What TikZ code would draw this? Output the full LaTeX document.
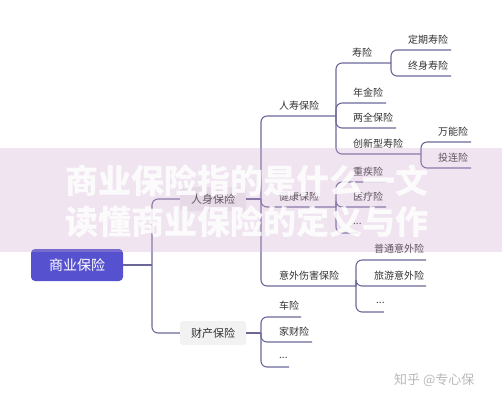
\documentclass[tikz,border=0pt]{standalone}
\usepackage{fontspec}
\setmainfont{Noto Sans CJK SC}
\definecolor{linec}{HTML}{6B6898}
\definecolor{rootc}{HTML}{5652CF}
\definecolor{boxc}{HTML}{F2F2F2}
\definecolor{txt}{HTML}{333333}
\definecolor{band}{RGB}{205,165,205}
\tikzset{
  conn/.style={draw=linec, line width=1.1pt, rounded corners=6pt},
  lbl/.style={anchor=west, inner sep=0pt, font=\fontsize{10}{12}\selectfont, text=txt},
  boxnode/.style={fill=boxc, rounded corners=3pt, minimum width=66pt, minimum height=24pt, font=\fontsize{11}{13}\selectfont, text=txt, inner sep=0pt},
  rootbox/.style={fill=rootc, rounded corners=4pt, minimum width=92pt, minimum height=32pt, font=\fontsize{14}{16}\selectfont, text=white, inner sep=0pt},
  wmtext/.style={anchor=west, inner sep=0pt, font=\fontsize{33}{33}\selectfont\bfseries, text=white, opacity=0.85},
}
\begin{document}
\begin{tikzpicture}[x=1pt,y=-1pt]
\useasboundingbox (0,0) rectangle (502,400);
% main nodes
\node[rootbox] (root) at (77,265) {商业保险};
\coordinate (rootO) at (152,265);
\node[boxnode] (rs) at (213,199) {人身保险};
\coordinate (rsO) at (261,199);
\node[boxnode] (cc) at (213,333) {财产保险};
\coordinate (ccO) at (261,333);
% level 2 under 人身保险
\node[lbl] (rsx) at (279,106) {人寿保险}; \coordinate (rsxO) at (336,116);
\node[lbl] (jk) at (279,197) {健康保险}; \coordinate (jkO) at (336,207);
\node[lbl] (yw) at (279,276) {意外伤害保险}; \coordinate (ywO) at (356,286);
% under 人寿保险
\node[lbl] (sx) at (352,53) {寿险}; \coordinate (sxO) at (391,63);
\node[lbl] (nj) at (353,93) {年金险}; \coordinate (njE) at (386,103);
\node[lbl] (lq) at (353,118) {两全保险}; \coordinate (lqE) at (396,128);
\node[lbl] (cx) at (353,144) {创新型寿险}; \coordinate (cxO) at (421,154);
% under 寿险
\node[lbl] (dq) at (408,40) {定期寿险}; \coordinate (dqE) at (451,50);
\node[lbl] (zs) at (408,66) {终身寿险}; \coordinate (zsE) at (451,76);
% under 创新型寿险
\node[lbl] (wn) at (438,132) {万能险}; \coordinate (wnE) at (471,142);
\node[lbl] (tl) at (438,158) {投连险}; \coordinate (tlE) at (471,168);
% under 健康保险
\node[lbl] (zj) at (353,172) {重疾险}; \coordinate (zjE) at (386,182);
\node[lbl] (yl) at (353,197) {医疗险}; \coordinate (ylE) at (386,207);
\node[lbl] (jd) at (353,224) {...}; \coordinate (jdE) at (359,233);
% under 意外伤害保险
\node[lbl] (pt) at (374,249) {普通意外险}; \coordinate (ptE) at (426,260);
\node[lbl] (ly) at (374,276) {旅游意外险}; \coordinate (lyE) at (426,286);
\node[lbl] (yd) at (376,303) {...}; \coordinate (ydE) at (384,312);
% under 财产保险
\node[lbl] (ch) at (279,306) {车险}; \coordinate (chE) at (301,317);
\node[lbl] (jc) at (279,332) {家财险}; \coordinate (jcE) at (312,342);
\node[lbl] (cd) at (279,358) {...}; \coordinate (cdE) at (289,367);
% connectors
\draw[conn] (root.east) -- (rootO);
\draw[conn] (rootO) |- (rs.west);
\draw[conn] (rootO) |- (cc.west);
\draw[conn] (rs.east) -- (rsO);
\draw[conn] (cc.east) -- (ccO);
\draw[conn] (rsO) |- (rsxO);
\draw[conn] (rsO) |- (jkO);
\draw[conn] (rsO) |- (ywO);
\draw[conn] (rsxO) |- (sxO);
\draw[conn] (rsxO) |- (njE);
\draw[conn] (rsxO) |- (lqE);
\draw[conn] (rsxO) |- (cxO);
\draw[conn] (sxO) |- (dqE);
\draw[conn] (sxO) |- (zsE);
\draw[conn] (cxO) |- (wnE);
\draw[conn] (cxO) |- (tlE);
\draw[conn] (jkO) |- (zjE);
\draw[conn] (jkO) |- (ylE);
\draw[conn] (jkO) |- (jdE);
\draw[conn] (ywO) |- (ptE);
\draw[conn] (ywO) |- (lyE);
\draw[conn] (ywO) |- (ydE);
\draw[conn] (ccO) |- (chE);
\draw[conn] (ccO) |- (jcE);
\draw[conn] (ccO) |- (cdE);
% watermark band and texts
\fill[band, opacity=0.3] (0,148) rectangle (502,252);
\node[wmtext] (wm1) at (65,181) {商业保险指的是什么一文};
\node[wmtext] (wm2) at (65,222) {读懂商业保险的定义与作};
\node[anchor=west, inner sep=0pt, font=\fontsize{13}{13}\selectfont, text=black!28] (src) at (394,380) {知乎 @专心保};
\end{tikzpicture}
\end{document}
